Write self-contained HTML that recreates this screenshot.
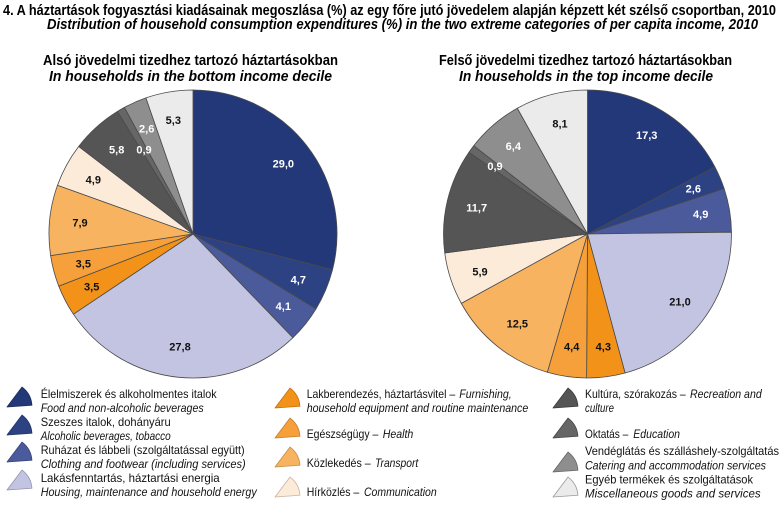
<!DOCTYPE html>
<html>
<head>
<meta charset="utf-8">
<style>
html,body{margin:0;padding:0;background:#fff;}
svg{display:block;}
text{font-family:"Liberation Sans",Arial,sans-serif;}
.t{font-size:15px;font-weight:bold;fill:#000;}
.ti{font-size:15px;font-weight:bold;font-style:italic;fill:#000;}
.l{font-size:12px;fill:#111;}
.li{font-size:12px;font-style:italic;fill:#111;}
.pl{font-size:11px;font-weight:bold;text-anchor:middle;}
.w{fill:#fff;}
.b{fill:#111;}
.s path{stroke:#4a4a4a;stroke-width:0.8;stroke-linejoin:round;}
.m path{stroke-width:0.8;stroke-linejoin:round;}
</style>
</head>
<body>
<svg width="780" height="505" viewBox="0 0 780 505" xmlns="http://www.w3.org/2000/svg">
<rect width="780" height="505" fill="#fff"/>

<!-- Titles -->
<text class="t" x="3" y="15" textLength="773" lengthAdjust="spacingAndGlyphs">4. A háztartások fogyasztási kiadásainak megoszlása (%) az egy főre jutó jövedelem alapján képzett két szélső csoportban, 2010</text>
<text class="ti" x="47" y="29" textLength="711" lengthAdjust="spacingAndGlyphs">Distribution of household consumption expenditures (%) in the two extreme categories of per capita income, 2010</text>

<text class="t" x="43" y="65" textLength="295" lengthAdjust="spacingAndGlyphs">Alsó jövedelmi tizedhez tartozó háztartásokban</text>
<text class="ti" x="49" y="81" textLength="283" lengthAdjust="spacingAndGlyphs">In households in the bottom income decile</text>
<text class="t" x="439" y="65" textLength="293" lengthAdjust="spacingAndGlyphs">Felső jövedelmi tizedhez tartozó háztartásokban</text>
<text class="ti" x="459" y="81" textLength="254" lengthAdjust="spacingAndGlyphs">In households in the top income decile</text>

<!-- Left pie -->
<g class="s">
<path fill="#233878" d="M193 234 L193 90 A144 144 0 0 1 332.48 269.81 Z"/>
<path fill="#2D4283" d="M193 234 L332.48 269.81 A144 144 0 0 1 316.02 308.86 Z"/>
<path fill="#4A5A9A" d="M193 234 L316.02 308.86 A144 144 0 0 1 292.89 337.72 Z"/>
<path fill="#C3C4E1" d="M193 234 L292.89 337.72 A144 144 0 0 1 73.41 314.21 Z"/>
<path fill="#F39219" d="M193 234 L73.41 314.21 A144 144 0 0 1 58.78 286.17 Z"/>
<path fill="#F5A03A" d="M193 234 L58.78 286.17 A144 144 0 0 1 50.63 255.63 Z"/>
<path fill="#F7B35F" d="M193 234 L50.63 255.63 A144 144 0 0 1 57.51 185.22 Z"/>
<path fill="#FDEBDA" d="M193 234 L57.51 185.22 A144 144 0 0 1 78.66 146.46 Z"/>
<path fill="#555555" d="M193 234 L78.66 146.46 A144 144 0 0 1 117.38 111.46 Z"/>
<path fill="#666666" d="M193 234 L117.38 111.46 A144 144 0 0 1 124.42 107.38 Z"/>
<path fill="#8E8E8E" d="M193 234 L124.42 107.38 A144 144 0 0 1 145.93 97.91 Z"/>
<path fill="#EBEBEB" d="M193 234 L145.93 97.91 A144 144 0 0 1 193 90 Z"/>
</g>
<text class="pl w" x="283.3" y="167.3">29,0</text>
<text class="pl w" x="298.3" y="283.3">4,7</text>
<text class="pl w" x="283.3" y="310">4,1</text>
<text class="pl b" x="180" y="350.7">27,8</text>
<text class="pl b" x="91.7" y="290.7">3,5</text>
<text class="pl b" x="83.3" y="267.3">3,5</text>
<text class="pl b" x="80" y="226.7">7,9</text>
<text class="pl b" x="93.3" y="183.3">4,9</text>
<text class="pl w" x="116.7" y="153.3">5,8</text>
<text class="pl w" x="144" y="153.3">0,9</text>
<text class="pl w" x="146.7" y="132.3">2,6</text>
<text class="pl b" x="173.3" y="124">5,3</text>

<!-- Right pie -->
<g class="s">
<path fill="#233878" d="M587.5 234 L587.5 90 A144 144 0 0 1 714.97 167.02 Z"/>
<path fill="#2D4283" d="M587.5 234 L714.97 167.02 A144 144 0 0 1 724.17 188.64 Z"/>
<path fill="#4A5A9A" d="M587.5 234 L724.17 188.64 A144 144 0 0 1 731.49 232.19 Z"/>
<path fill="#C3C4E1" d="M587.5 234 L731.49 232.19 A144 144 0 0 1 625.06 373.01 Z"/>
<path fill="#F39219" d="M587.5 234 L625.06 373.01 A144 144 0 0 1 586.6 378 Z"/>
<path fill="#F5A03A" d="M587.5 234 L586.6 378 A144 144 0 0 1 547.33 372.28 Z"/>
<path fill="#F7B35F" d="M587.5 234 L547.33 372.28 A144 144 0 0 1 461.31 303.37 Z"/>
<path fill="#FDEBDA" d="M587.5 234 L461.31 303.37 A144 144 0 0 1 444.75 252.94 Z"/>
<path fill="#555555" d="M587.5 234 L444.75 252.94 A144 144 0 0 1 468.91 152.31 Z"/>
<path fill="#666666" d="M587.5 234 L468.91 152.31 A144 144 0 0 1 473.72 145.74 Z"/>
<path fill="#8E8E8E" d="M587.5 234 L473.72 145.74 A144 144 0 0 1 517.34 108.25 Z"/>
<path fill="#EBEBEB" d="M587.5 234 L517.34 108.25 A144 144 0 0 1 587.5 90 Z"/>
</g>
<text class="pl w" x="646.7" y="139">17,3</text>
<text class="pl w" x="693.3" y="192.3">2,6</text>
<text class="pl w" x="700.7" y="218">4,9</text>
<text class="pl b" x="680" y="305.7">21,0</text>
<text class="pl b" x="603.3" y="350.7">4,3</text>
<text class="pl b" x="571.7" y="350.7">4,4</text>
<text class="pl b" x="517.3" y="327.3">12,5</text>
<text class="pl b" x="480" y="275.7">5,9</text>
<text class="pl w" x="476.7" y="211.7">11,7</text>
<text class="pl w" x="495" y="170">0,9</text>
<text class="pl w" x="513.3" y="150">6,4</text>
<text class="pl b" x="560" y="127.3">8,1</text>

<!-- Legend markers -->
<g class="m">
<path fill="#233878" stroke="#1a2a5c" d="M7 407 L31.94 405.26 A25 25 0 0 0 22.05 387.03 Z"/>
<path fill="#2D4283" stroke="#213266" d="M7 435 L31.94 433.26 A25 25 0 0 0 22.05 415.03 Z"/>
<path fill="#4A5A9A" stroke="#37447a" d="M7 462 L31.94 460.26 A25 25 0 0 0 22.05 442.03 Z"/>
<path fill="#C3C4E1" stroke="#9394b4" d="M7 490 L31.94 488.26 A25 25 0 0 0 22.05 470.03 Z"/>

<path fill="#F39219" stroke="#c27010" d="M275 408 L299.94 406.26 A25 25 0 0 0 290.05 388.03 Z"/>
<path fill="#F5A03A" stroke="#c47e28" d="M275 438 L299.94 436.26 A25 25 0 0 0 290.05 418.03 Z"/>
<path fill="#F7B35F" stroke="#c68d45" d="M275 467 L299.94 465.26 A25 25 0 0 0 290.05 447.03 Z"/>
<path fill="#FDEBDA" stroke="#c8b49f" d="M275 497 L299.94 495.26 A25 25 0 0 0 290.05 477.03 Z"/>

<path fill="#555555" stroke="#3a3a3a" d="M553 408 L577.94 406.26 A25 25 0 0 0 568.05 388.03 Z"/>
<path fill="#666666" stroke="#454545" d="M553 438 L577.94 436.26 A25 25 0 0 0 568.05 418.03 Z"/>
<path fill="#8E8E8E" stroke="#666666" d="M553 472 L577.94 470.26 A25 25 0 0 0 568.05 452.03 Z"/>
<path fill="#EBEBEB" stroke="#9a9a9a" d="M553 497 L577.94 495.26 A25 25 0 0 0 568.05 477.03 Z"/>
</g>

<!-- Legend column 1 -->
<text class="l" x="40.7" y="398" textLength="176" lengthAdjust="spacingAndGlyphs">Élelmiszerek és alkoholmentes italok</text>
<text class="li" x="40.7" y="412" textLength="163" lengthAdjust="spacingAndGlyphs">Food and non-alcoholic beverages</text>
<text class="l" x="40.7" y="426" textLength="130" lengthAdjust="spacingAndGlyphs">Szeszes italok, dohányáru</text>
<text class="li" x="40.7" y="440" textLength="130" lengthAdjust="spacingAndGlyphs">Alcoholic beverages, tobacco</text>
<text class="l" x="40.7" y="454" textLength="204" lengthAdjust="spacingAndGlyphs">Ruházat és lábbeli (szolgáltatással együtt)</text>
<text class="li" x="40.7" y="468" textLength="205" lengthAdjust="spacingAndGlyphs">Clothing and footwear (including services)</text>
<text class="l" x="40.7" y="482" textLength="179" lengthAdjust="spacingAndGlyphs">Lakásfenntartás, háztartási energia</text>
<text class="li" x="40.7" y="496" textLength="216" lengthAdjust="spacingAndGlyphs">Housing, maintenance and household energy</text>

<!-- Legend column 2 -->
<text class="l" x="306.7" y="398" textLength="148.5" lengthAdjust="spacingAndGlyphs">Lakberendezés, háztartásvitel –</text>
<text class="li" x="459.3" y="398" textLength="52.4" lengthAdjust="spacingAndGlyphs">Furnishing,</text>
<text class="li" x="306.7" y="412" textLength="221.6" lengthAdjust="spacingAndGlyphs">household equipment and routine maintenance</text>
<text class="l" x="306.7" y="438" textLength="71.6" lengthAdjust="spacingAndGlyphs">Egészségügy –</text>
<text class="li" x="382.7" y="438" textLength="30.6" lengthAdjust="spacingAndGlyphs">Health</text>
<text class="l" x="306.7" y="467" textLength="64" lengthAdjust="spacingAndGlyphs">Közlekedés –</text>
<text class="li" x="375" y="467" textLength="43.3" lengthAdjust="spacingAndGlyphs">Transport</text>
<text class="l" x="306.7" y="496" textLength="52.6" lengthAdjust="spacingAndGlyphs">Hírközlés –</text>
<text class="li" x="364" y="496" textLength="72.7" lengthAdjust="spacingAndGlyphs">Communication</text>

<!-- Legend column 3 -->
<text class="l" x="585" y="398" textLength="100.7" lengthAdjust="spacingAndGlyphs">Kultúra, szórakozás –</text>
<text class="li" x="690" y="398" textLength="71.7" lengthAdjust="spacingAndGlyphs">Recreation and</text>
<text class="li" x="585" y="412" textLength="29" lengthAdjust="spacingAndGlyphs">culture</text>
<text class="l" x="585" y="438" textLength="43.3" lengthAdjust="spacingAndGlyphs">Oktatás –</text>
<text class="li" x="633.3" y="438" textLength="46.7" lengthAdjust="spacingAndGlyphs">Education</text>
<text class="l" x="585" y="455" textLength="194" lengthAdjust="spacingAndGlyphs">Vendéglátás és szálláshely-szolgáltatás</text>
<text class="li" x="585" y="469.5" textLength="181" lengthAdjust="spacingAndGlyphs">Catering and accommodation services</text>
<text class="l" x="585" y="483.5" textLength="168" lengthAdjust="spacingAndGlyphs">Egyéb termékek és szolgáltatások</text>
<text class="li" x="585" y="497.5" textLength="175.7" lengthAdjust="spacingAndGlyphs">Miscellaneous goods and services</text>
</svg>
</body>
</html>
